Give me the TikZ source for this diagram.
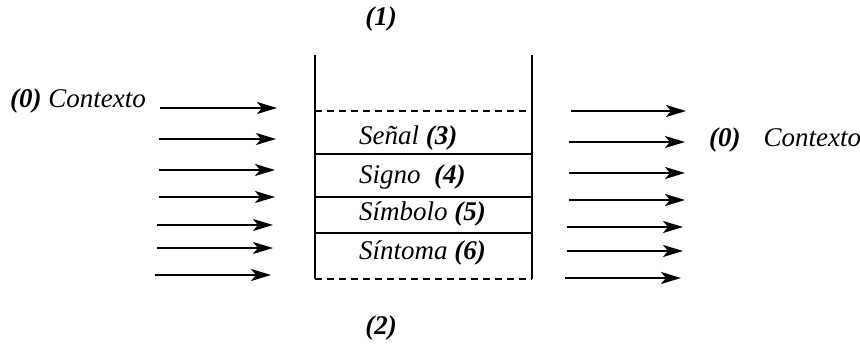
\documentclass[tikz,border=0pt]{standalone}
\usepackage{fontspec}
\setmainfont{Liberation Serif}
\usetikzlibrary{arrows.meta}
\tikzset{
  flow/.style={line width=2pt,-{Stealth[length=20pt,width=12pt,inset=5pt]}},
  wall/.style={line width=2pt},
  sep/.style={line width=2pt},
  dsep/.style={line width=2pt,dash pattern=on 7pt off 5pt},
  lbl/.style={inner sep=0pt,font=\fontsize{27}{32}\selectfont\itshape},
}
\newcommand{\bn}[1]{\textbf{\textit{#1}}}
\begin{document}
\begin{tikzpicture}[x=1pt,y=-1pt]
\useasboundingbox (0,0) rectangle (860,347);
% box
\coordinate (tl) at (315,55);
\coordinate (tr) at (532,55);
\coordinate (bl) at (315,279);
\coordinate (br) at (532,279);
\draw[wall] (tl) -- (bl);
\draw[wall] (tr) -- (br);
\coordinate (d1l) at (315,111); \coordinate (d1r) at (532,111);
\draw[dsep] (d1l) -- (d1r);
\draw[dsep] (bl) -- (br);
\coordinate (s1l) at (315,154); \coordinate (s1r) at (532,154);
\coordinate (s2l) at (315,197); \coordinate (s2r) at (532,197);
\coordinate (s3l) at (315,233); \coordinate (s3r) at (532,233);
\draw[sep] (s1l) -- (s1r);
\draw[sep] (s2l) -- (s2r);
\draw[sep] (s3l) -- (s3r);
% labels
\node[lbl,anchor=west] (senal) at (359,138) {Señal \bn{(3)}};
\node[lbl,anchor=west] (signo) at (359,177) {Signo\ \ \bn{(4)}};
\node[lbl,anchor=west] (simbolo) at (359,214) {Símbolo \bn{(5)}};
\node[lbl,anchor=west] (sintoma) at (359,253) {Síntoma \bn{(6)}};
\node[lbl] (one) at (381,19) {\bn{(1)}};
\node[lbl] (two) at (381,328) {\bn{(2)}};
\node[lbl,anchor=west] (ctxl) at (10,101) {\bn{(0)} Contexto};
\node[lbl,anchor=west] (ctxr) at (709,140) {\bn{(0)}\hspace{0.85em}Contexto};
% left arrows
\foreach \i/\xs/\xe/\y in {1/160/277/108, 2/159/276/139, 3/159/275/170, 4/159/275/197, 5/157/273/225, 6/157/273/248, 7/155/271/275}{
  \coordinate (la\i) at (\xs,\y);
  \coordinate (lb\i) at (\xe,\y);
  \draw[flow] (la\i) -- (lb\i);
}
% right arrows
\foreach \i/\xs/\xe/\y in {1/571/686/111, 2/569/685/142, 3/569/685/173, 4/569/685/200, 5/567/683/227, 6/567/683/251, 7/565/681/278}{
  \coordinate (ra\i) at (\xs,\y);
  \coordinate (rb\i) at (\xe,\y);
  \draw[flow] (ra\i) -- (rb\i);
}
\end{tikzpicture}
\end{document}
